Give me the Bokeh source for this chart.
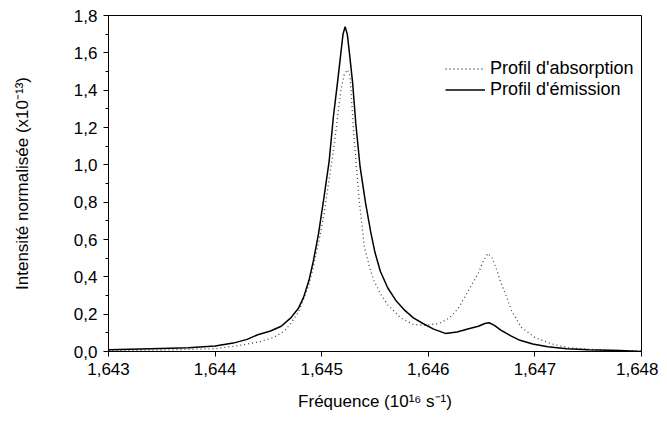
from bokeh.plotting import figure
from bokeh.models import FixedTicker, Range1d, Legend, LegendItem
from bokeh.embed import file_html
from bokeh.resources import INLINE

# Emission profile (solid)
freq_em = [1.64300, 1.64340, 1.64375, 1.64400, 1.64417, 1.64430, 1.64440, 1.64452, 1.64462,
           1.64471, 1.64478, 1.64483, 1.64488, 1.64492, 1.64497, 1.64502, 1.64507, 1.64511,
           1.64515, 1.64518, 1.64520, 1.64522, 1.64524, 1.64526, 1.64529, 1.64532, 1.64536,
           1.64541, 1.64546, 1.64550, 1.64555, 1.64562, 1.64570, 1.64578, 1.64586, 1.64595,
           1.64605, 1.64616, 1.64627, 1.64637, 1.64647, 1.64653, 1.64657, 1.64662, 1.64668,
           1.64677, 1.64686, 1.64698, 1.64712, 1.64730, 1.64750, 1.64780, 1.64800]
emission = [0.010, 0.015, 0.020, 0.030, 0.045, 0.065, 0.090, 0.110, 0.135,
            0.180, 0.230, 0.290, 0.380, 0.480, 0.630, 0.820, 1.020, 1.260,
            1.450, 1.600, 1.700, 1.740, 1.700, 1.600, 1.440, 1.220, 0.990,
            0.800, 0.640, 0.530, 0.430, 0.340, 0.270, 0.220, 0.180, 0.150,
            0.120, 0.097, 0.105, 0.120, 0.135, 0.150, 0.154, 0.140, 0.115,
            0.085, 0.060, 0.040, 0.025, 0.015, 0.010, 0.005, 0.000]

# Absorption profile (dotted)
freq_abs = [1.64300, 1.64350, 1.64400, 1.64420, 1.64440, 1.64455, 1.64465, 1.64471, 1.64478,
            1.64483, 1.64488, 1.64492, 1.64497, 1.64502, 1.64508, 1.64512, 1.64515, 1.64518,
            1.64521, 1.64524, 1.64526, 1.64527, 1.64530, 1.64535, 1.64540, 1.64545, 1.64549,
            1.64555, 1.64562, 1.64574, 1.64586, 1.64597, 1.64610, 1.64620, 1.64628, 1.64634,
            1.64641, 1.64647, 1.64652, 1.64656, 1.64660, 1.64664, 1.64668, 1.64673, 1.64678,
            1.64687, 1.64700, 1.64716, 1.64732, 1.64760, 1.64800]
absorption = [0.005, 0.008, 0.015, 0.030, 0.050, 0.075, 0.110, 0.150, 0.210,
              0.280, 0.360, 0.450, 0.580, 0.730, 0.960, 1.120, 1.260, 1.400,
              1.480, 1.510, 1.490, 1.440, 1.170, 0.820, 0.560, 0.450, 0.380,
              0.310, 0.250, 0.180, 0.145, 0.140, 0.150, 0.180, 0.230, 0.290,
              0.360, 0.420, 0.490, 0.526, 0.500, 0.440, 0.370, 0.300, 0.220,
              0.130, 0.075, 0.040, 0.020, 0.008, 0.002]

x_ticks = [1.643, 1.644, 1.645, 1.646, 1.647, 1.648]
x_tick_labels = ["1,643", "1,644", "1,645", "1,646", "1,647", "1,648"]
y_ticks = [0.0, 0.2, 0.4, 0.6, 0.8, 1.0, 1.2, 1.4, 1.6, 1.8]
y_tick_labels = ["0,0", "0,2", "0,4", "0,6", "0,8", "1,0", "1,2", "1,4", "1,6", "1,8"]
y_minor = [0.1, 0.3, 0.5, 0.7, 0.9, 1.1, 1.3, 1.5, 1.7]

FONT = "Liberation Sans"

p = figure(width=658, height=413, output_backend="svg", toolbar_location=None,
           x_range=Range1d(1.643, 1.648), y_range=Range1d(0.0, 1.8),
           min_border_left=108, min_border_right=17, min_border_top=15, min_border_bottom=59)
p.background_fill_color = "white"
p.border_fill_color = "white"
p.outline_line_color = "black"
p.outline_line_width = 1
p.xgrid.visible = False
p.ygrid.visible = False

r_abs = p.line(freq_abs, absorption, line_color="#444444", line_width=1.3, line_dash="1 3")
r_em = p.line(freq_em, emission, line_color="black", line_width=1.5)

p.xaxis.ticker = FixedTicker(ticks=x_ticks, minor_ticks=[])
p.xaxis.major_label_overrides = {t: l for t, l in zip(x_ticks, x_tick_labels)}
p.yaxis.ticker = FixedTicker(ticks=y_ticks, minor_ticks=y_minor)
p.yaxis.major_label_overrides = {t: l for t, l in zip(y_ticks, y_tick_labels)}

for ax in (p.xaxis[0], p.yaxis[0]):
    ax.axis_line_color = "black"
    ax.major_tick_line_color = "black"
    ax.minor_tick_line_color = "black"
    ax.major_tick_in = 0
    ax.major_tick_out = 5
    ax.minor_tick_in = 0
    ax.minor_tick_out = 3
    ax.major_label_text_font = FONT
    ax.major_label_text_font_size = "17px"
    ax.major_label_text_color = "black"
    ax.axis_label_text_font = FONT
    ax.axis_label_text_font_size = "17px"
    ax.axis_label_text_font_style = "normal"
    ax.axis_label_text_color = "black"

p.xaxis.axis_label = "Fréquence (10¹⁶ s⁻¹)"
p.xaxis.axis_label_standoff = 14
p.xaxis.major_label_standoff = 6
p.yaxis.axis_label = "Intensité normalisée (x10⁻¹³)"
p.yaxis.axis_label_standoff = 39
p.yaxis.major_label_standoff = 6

legend = Legend(items=[LegendItem(label="Profil d'absorption", renderers=[r_abs]),
                       LegendItem(label="Profil d'émission", renderers=[r_em])],
                location=(337, 251))
legend.border_line_color = None
legend.background_fill_alpha = 0
legend.padding = 0
legend.margin = 0
legend.spacing = 0
legend.label_height = 19
legend.glyph_height = 19
legend.glyph_width = 40
legend.label_standoff = 5
legend.label_text_font = FONT
legend.label_text_font_size = "18px"
legend.label_text_color = "black"
p.add_layout(legend)

open("out.html", "w").write(file_html(p, INLINE))
